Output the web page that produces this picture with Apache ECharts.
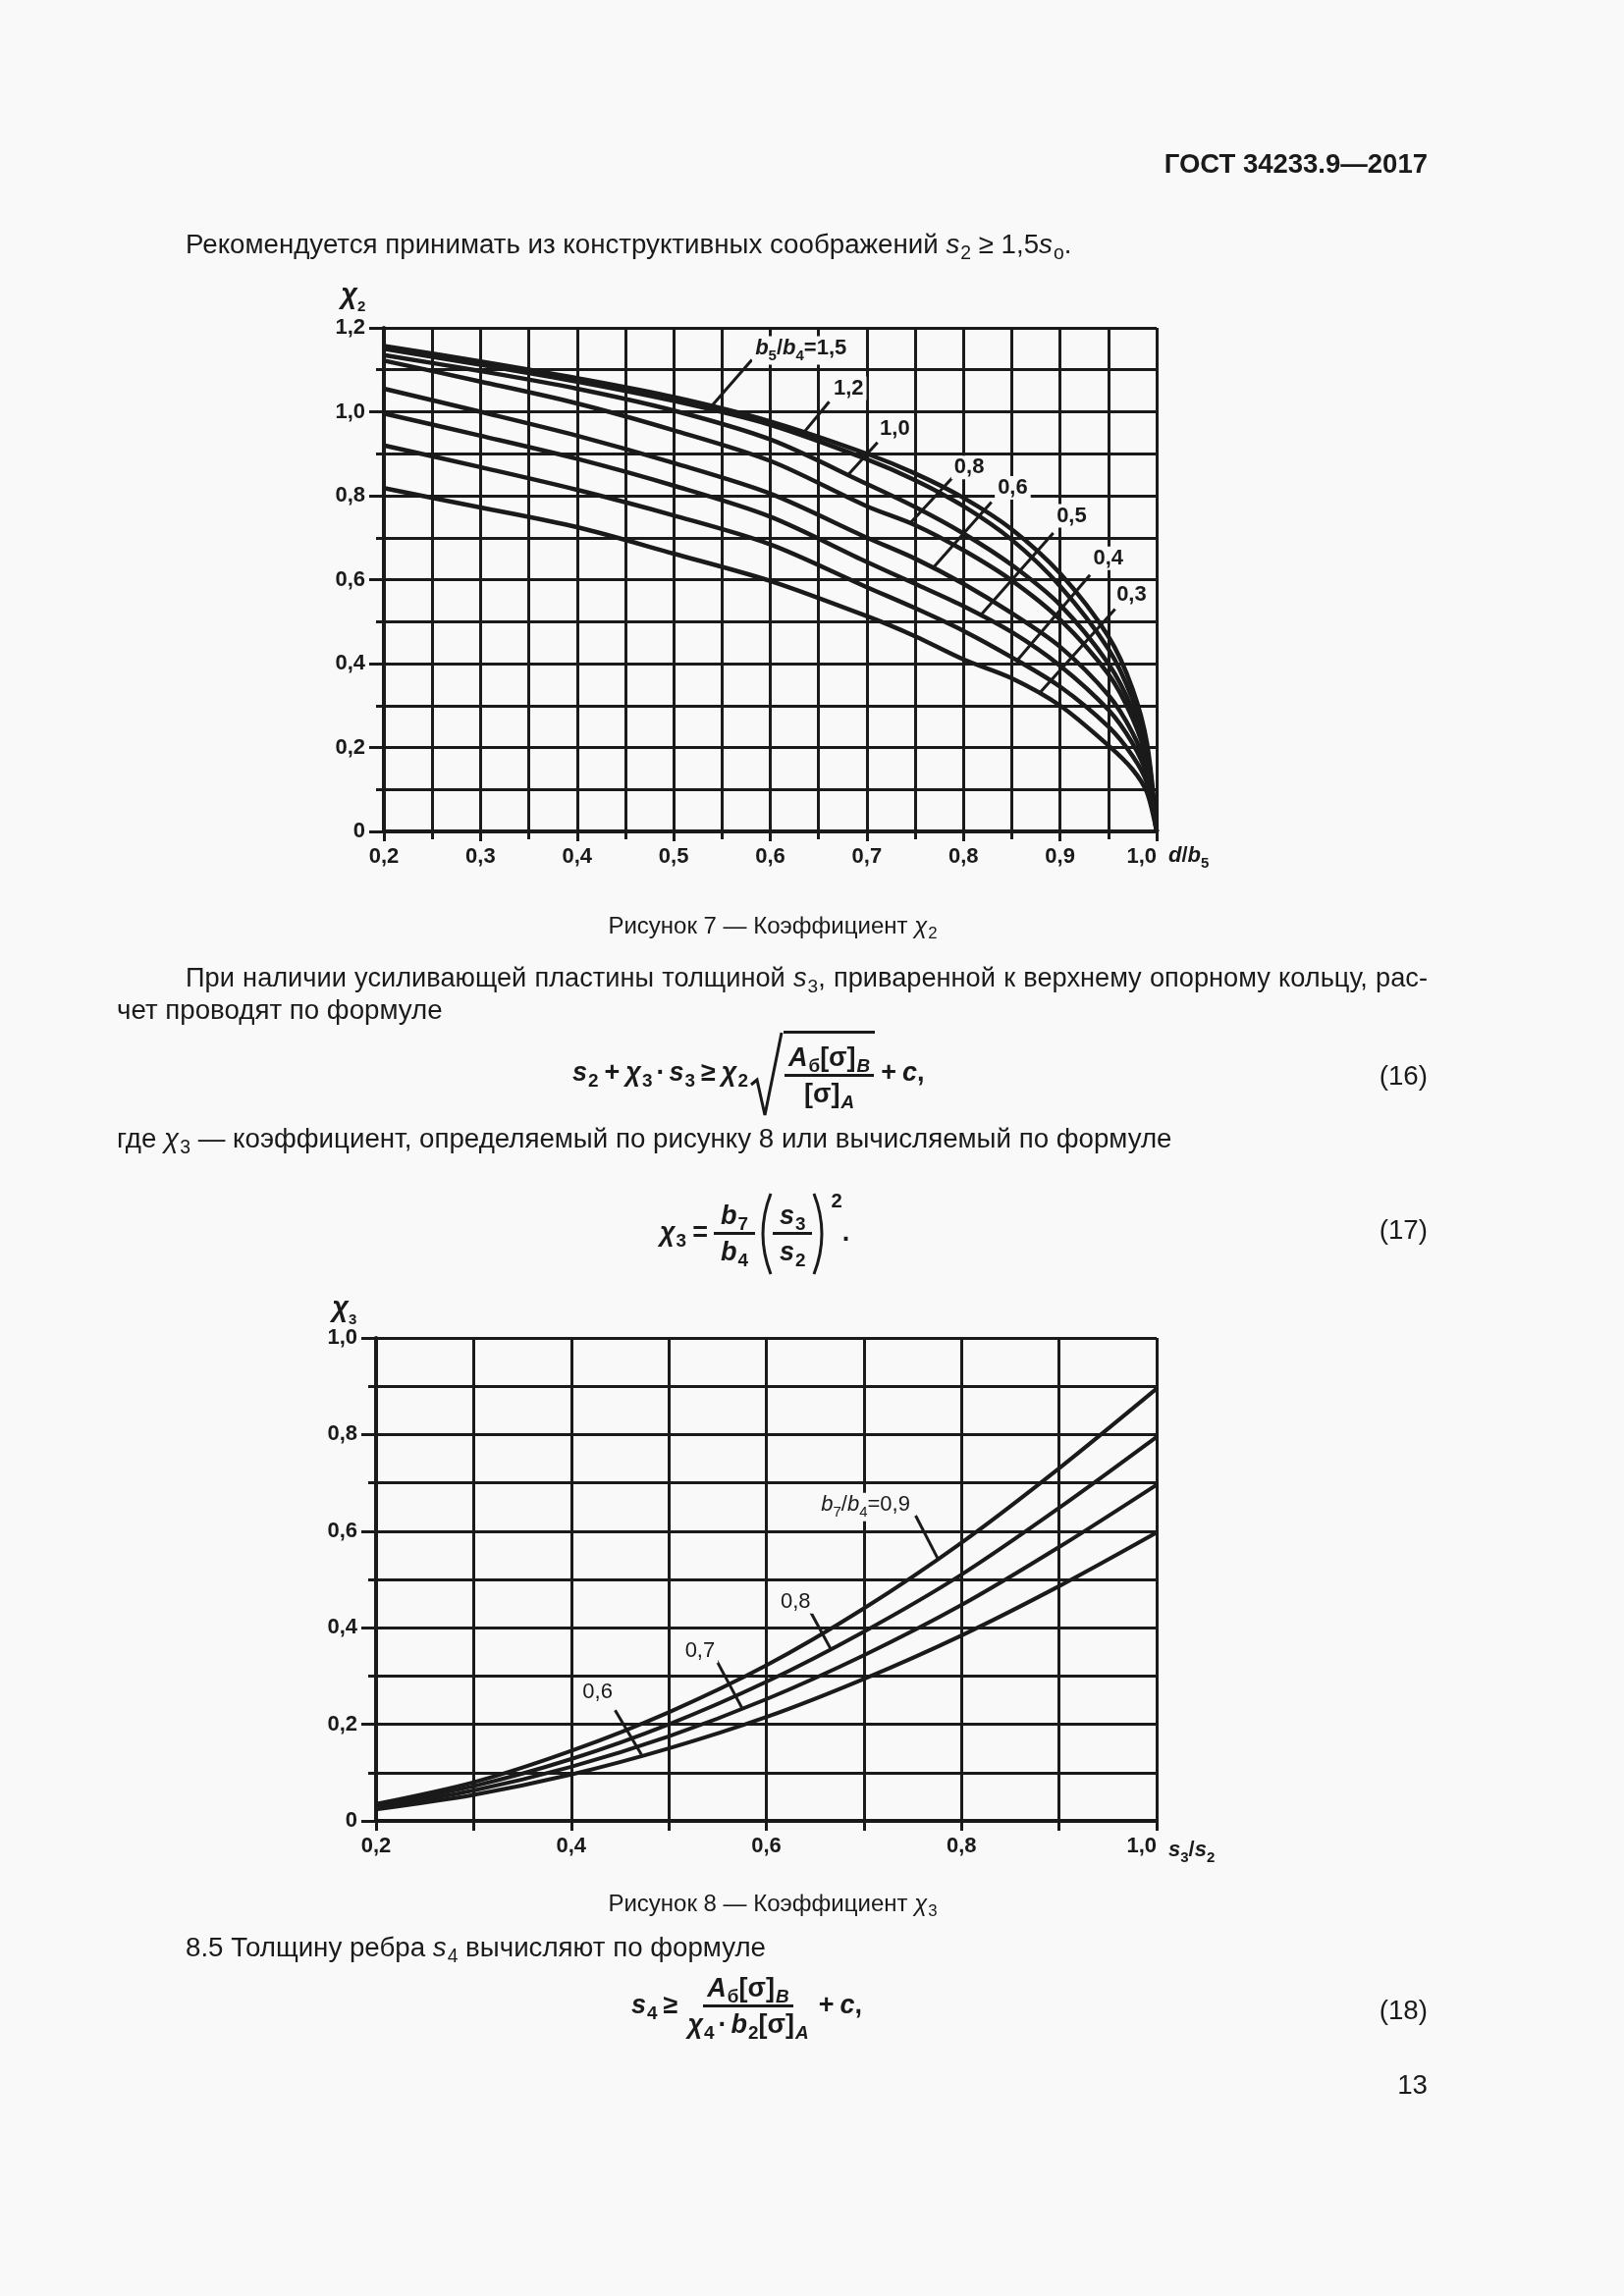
<!DOCTYPE html>
<html><head><meta charset="utf-8">
<script src="https://cdn.jsdelivr.net/npm/echarts@6/dist/echarts.min.js"></script>
<style>
html,body{margin:0;padding:0;background:#f9f9f9;}
#page{position:relative;width:1654px;height:2339px;overflow:hidden;font-family:"Liberation Sans",Arial,sans-serif;color:#1a1a1a;}
#chart{position:absolute;left:0;top:0;width:1654px;height:2339px;z-index:0;}
.t{position:absolute;white-space:nowrap;font-size:27.7px;line-height:30px;z-index:1;}
.b{font-weight:bold;}
.cap{font-size:24px;text-align:center;left:0;width:1574px;}
.sb{font-size:0.7em;position:relative;top:0.32em;margin-left:1px;}
.fm{position:absolute;white-space:nowrap;font-size:27px;font-weight:bold;line-height:1;z-index:1;}
.fm i{font-style:italic;}
.op{margin:0 6px;font-style:normal;}
.op2{margin:0 4px;}
.fr{display:inline-flex;flex-direction:column;align-items:center;vertical-align:middle;}
.fr .nu{border-bottom:3px solid #1a1a1a;padding:0 4px 3px;}
.fr .de{padding:4px 4px 0;}
.f17 .fr .nu,.f17 .fr .de{padding-left:7px;padding-right:7px;}
.sqrt{display:inline-flex;height:88px;vertical-align:middle;margin-left:2px;}
.sqin{border-top:3px solid #1a1a1a;display:flex;align-items:center;padding:0 1px;}
.par{vertical-align:middle;}
.sup{font-size:0.75em;position:relative;top:-34px;margin-left:1px;}
.just{white-space:normal;text-align:justify;text-align-last:justify;word-spacing:-5px;font-size:27.2px;}
</style>
</head>
<body>
<div id="page">
<div id="chart"></div>

<div class="t b" style="right:200px;top:152px;font-size:27.5px;">ГОСТ 34233.9—2017</div>
<div class="t" style="left:189px;top:234px;">Рекомендуется принимать из конструктивных соображений <i>s</i><span class="sb">2</span> ≥ 1,5<i>s</i><span class="sb">o</span>.</div>

<div class="t cap" style="top:928px;">Рисунок 7 — Коэффициент <i>χ</i><span class="sb">2</span></div>

<div class="t just" style="left:189px;top:981px;width:1265px;">При наличии усиливающей пластины толщиной <i>s</i><span class="sb">3</span>, приваренной к верхнему опорному кольцу, рас-</div>
<div class="t" style="left:119px;top:1014px;">чет проводят по формуле</div>

<div class="fm" style="left:583px;top:1050px;"><i>s</i><span class="sb">2</span><span class="op">+</span><i>χ</i><span class="sb">3</span><span class="op2">·</span><i>s</i><span class="sb">3</span><span class="op">≥</span><i>χ</i><span class="sb">2</span><span class="sqrt"><svg width="34" height="88" viewBox="0 0 34 88"><polyline points="1,55 7,50 15,86 32,2" fill="none" stroke="#1a1a1a" stroke-width="3"/></svg><span class="sqin"><span class="fr"><span class="nu"><i>A</i><span class="sb">б</span>[σ]<span class="sb"><i>B</i></span></span><span class="de">[σ]<span class="sb"><i>A</i></span></span></span></span></span><span class="op">+</span><i>c</i>,</div>
<div class="t" style="right:200px;top:1081px;">(16)</div>

<div class="t" style="left:119px;top:1145px;">где <i>χ</i><span class="sb">3</span> — коэффициент, определяемый по рисунку 8 или вычисляемый по формуле</div>

<div class="fm f17" style="left:672px;top:1214px;"><i>χ</i><span class="sb">3</span><span class="op">=</span><span class="fr"><span class="nu"><i>b</i><span class="sb">7</span></span><span class="de"><i>b</i><span class="sb">4</span></span></span><svg class="par" width="18" height="86" viewBox="0 0 18 86"><path d="M16,2 Q0,43 16,84" fill="none" stroke="#1a1a1a" stroke-width="3"/></svg><span class="fr"><span class="nu"><i>s</i><span class="sb">3</span></span><span class="de"><i>s</i><span class="sb">2</span></span></span><svg class="par" width="18" height="86" viewBox="0 0 18 86"><path d="M2,2 Q18,43 2,84" fill="none" stroke="#1a1a1a" stroke-width="3"/></svg><span class="sup">2</span>.</div>
<div class="t" style="right:200px;top:1238px;">(17)</div>

<div class="t cap" style="top:1924px;">Рисунок 8 — Коэффициент <i>χ</i><span class="sb">3</span></div>

<div class="t" style="left:189px;top:1969px;">8.5 Толщину ребра <i>s</i><span class="sb">4</span> вычисляют по формуле</div>

<div class="fm" style="left:643px;top:2012px;"><i>s</i><span class="sb">4</span><span class="op">≥</span><span class="fr"><span class="nu"><i>A</i><span class="sb">б</span>[σ]<span class="sb"><i>B</i></span></span><span class="de"><i>χ</i><span class="sb">4</span><span class="op2">·</span><i>b</i><span class="sb">2</span>[σ]<span class="sb"><i>A</i></span></span></span><span class="op">+</span><i>c</i>,</div>
<div class="t" style="right:200px;top:2033px;">(18)</div>

<div class="t" style="right:200px;top:2109px;">13</div>
</div>

<script>
// ---------- Figure 7: chi2 vs d/b5 ----------
const fig7X = [0.2, 0.3, 0.4, 0.5, 0.6, 0.7, 0.75, 0.8, 0.85, 0.9, 0.95, 0.975, 0.99, 1.0];
const fig7_r15 = [1.157, 1.12, 1.08, 1.035, 0.977, 0.90, 0.853, 0.795, 0.72, 0.615, 0.465, 0.34, 0.21, 0];
const fig7_r12 = [1.15, 1.112, 1.072, 1.026, 0.969, 0.887, 0.837, 0.775, 0.695, 0.585, 0.435, 0.315, 0.195, 0];
const fig7_r10 = [1.135, 1.097, 1.055, 1.003, 0.934, 0.828, 0.773, 0.71, 0.635, 0.54, 0.40, 0.29, 0.18, 0];
const fig7_r08 = [1.122, 1.072, 1.02, 0.956, 0.883, 0.775, 0.73, 0.67, 0.598, 0.505, 0.375, 0.27, 0.167, 0];
const fig7_r06 = [1.055, 1.0, 0.943, 0.878, 0.805, 0.70, 0.65, 0.59, 0.52, 0.44, 0.325, 0.235, 0.148, 0];
const fig7_r05 = [0.996, 0.943, 0.888, 0.824, 0.750, 0.642, 0.59, 0.537, 0.475, 0.395, 0.29, 0.21, 0.133, 0];
const fig7_r04 = [0.92, 0.868, 0.814, 0.753, 0.684, 0.582, 0.532, 0.478, 0.415, 0.345, 0.25, 0.18, 0.115, 0];
const fig7_r03 = [0.818, 0.772, 0.725, 0.662, 0.597, 0.513, 0.465, 0.41, 0.365, 0.30, 0.205, 0.148, 0.093, 0];
const fig7Ratios = ['1,5', '1,2', '1,0', '0,8', '0,6', '0,5', '0,4', '0,3'];
const fig7LeaderFrom = [[0.539, 1.013], [0.632, 0.943], [0.681, 0.851], [0.745, 0.735], [0.769, 0.629], [0.818, 0.516], [0.855, 0.406], [0.88, 0.333]];
const fig7LeaderTo = [[0.581, 1.124], [0.661, 1.024], [0.711, 0.927], [0.789, 0.844], [0.829, 0.785], [0.893, 0.711], [0.931, 0.611], [0.957, 0.53]];
const fig7LabelAt = [[0.632, 1.146], [0.681, 1.056], [0.729, 0.96], [0.806, 0.867], [0.851, 0.819], [0.912, 0.752], [0.950, 0.651], [0.974, 0.565]];

// ---------- Figure 8: chi3 vs s3/s2 ----------
const fig8X = [0.2, 0.3, 0.4, 0.5, 0.6, 0.7, 0.8, 0.9, 1.0];
const fig8_r09 = [0.035, 0.08, 0.145, 0.225, 0.322, 0.44, 0.576, 0.73, 0.895];
const fig8_r08 = [0.032, 0.072, 0.128, 0.2, 0.288, 0.392, 0.51, 0.648, 0.795];
const fig8_r07 = [0.028, 0.063, 0.112, 0.175, 0.252, 0.343, 0.447, 0.567, 0.696];
const fig8_r06 = [0.024, 0.054, 0.096, 0.15, 0.215, 0.294, 0.384, 0.486, 0.597];
const fig8Ratios = ['0,9', '0,8', '0,7', '0,6'];
const fig8LeaderFrom = [[0.776, 0.542], [0.666, 0.356], [0.575, 0.234], [0.472, 0.137]];
const fig8LeaderTo = [[0.753, 0.632], [0.645, 0.434], [0.549, 0.332], [0.445, 0.229]];
const fig8LabelAt = [[0.702, 0.65], [0.630, 0.454], [0.532, 0.351], [0.427, 0.266]];

const FONT = '"Liberation Sans", Arial, sans-serif';
const INK = '#1a1a1a';
const PAPER = '#f9f9f9';

function richSet(size, weight, chiSize) {
  const sub = Math.round(size * 0.68);
  return {
    i: {fontFamily: FONT, fontSize: size, fontWeight: weight, fontStyle: 'italic', color: INK, verticalAlign: 'top', lineHeight: size},
    n: {fontFamily: FONT, fontSize: size, fontWeight: weight, color: INK, verticalAlign: 'top', lineHeight: size},
    c: {fontFamily: FONT, fontSize: chiSize || size, fontWeight: weight, fontStyle: 'italic', color: INK, verticalAlign: 'top', lineHeight: chiSize || size},
    s: {fontFamily: FONT, fontSize: sub, fontWeight: weight, color: INK, verticalAlign: 'bottom', lineHeight: sub},
    sp: {fontSize: 2, lineHeight: (chiSize || size) + 5}
  };
}
const fmt1 = v => (Math.abs(v) < 1e-9 ? '0' : v.toFixed(1).replace('.', ','));

function makeAxes(gridIndex, xMin, xMax, xInt, xMinor, yMax, yInt, yMinor, xName, yName, xNamePad, yNameGap, yNamePadR) {
  const xAxis = {
    type: 'value', gridIndex, min: xMin, max: xMax, interval: xInt,
    axisLine: {show: true, onZero: false, lineStyle: {color: INK, width: 4}},
    axisTick: {show: true, length: 10, lineStyle: {color: INK, width: 3}},
    minorTick: {show: true, splitNumber: xMinor, length: 8, lineStyle: {color: INK, width: 3}},
    splitLine: {show: true, lineStyle: {color: INK, width: 3}},
    minorSplitLine: {show: true, lineStyle: {color: INK, width: 3}},
    axisLabel: {fontFamily: FONT, fontSize: 22, fontWeight: 'bold', color: INK, margin: 15, formatter: fmt1, alignMaxLabel: 'right', showMaxLabel: true, showMinLabel: true},
    name: xName, nameLocation: 'end', nameGap: 12,
    nameTextStyle: {color: INK, align: 'left', verticalAlign: 'middle', padding: [xNamePad, 0, 0, 0], rich: richSet(22, 'bold')}
  };
  const yAxis = {
    type: 'value', gridIndex, min: 0, max: yMax, interval: yInt,
    axisLine: {show: true, onZero: false, lineStyle: {color: INK, width: 4}},
    axisTick: {show: true, length: 15, lineStyle: {color: INK, width: 3}},
    minorTick: {show: true, splitNumber: yMinor, length: 8, lineStyle: {color: INK, width: 3}},
    splitLine: {show: true, lineStyle: {color: INK, width: 3}},
    minorSplitLine: {show: true, lineStyle: {color: INK, width: 3}},
    axisLabel: {fontFamily: FONT, fontSize: 22, fontWeight: 'bold', color: INK, margin: 19, formatter: fmt1},
    name: yName, nameLocation: 'end', nameGap: yNameGap,
    nameTextStyle: {color: INK, align: 'right', verticalAlign: 'bottom', padding: [0, yNamePadR, 0, 0], rich: richSet(22, 'bold', 29)}
  };
  return [xAxis, yAxis];
}

const ax7 = makeAxes(0, 0.2, 1.0, 0.1, 2, 1.2, 0.2, 2,
  '{i|d}{n|/}{i|b}{s|5}{sp| }', '{c|χ}{s|2}{sp| }', 54, 14, 18);
const ax8 = makeAxes(1, 0.2, 1.0, 0.2, 2, 1.0, 0.2, 2,
  '{i|s}{s|3}{n|/}{i|s}{s|2}{sp| }', '{c|χ}{s|3}{sp| }', 64, 11, 19);
ax8[0].minorTick.length = 10;

const series = [];
function addCurves(xs, curves, axisIdx, width) {
  curves.forEach(vals => {
    series.push({
      type: 'line', xAxisIndex: axisIdx, yAxisIndex: axisIdx,
      data: xs.map((x, j) => [x, vals[j]]),
      smooth: 0.3, symbol: 'none', silent: true,
      lineStyle: {color: INK, width: width}, z: 3
    });
  });
}
function addLeaders(from, to, axisIdx) {
  from.forEach((p, i) => {
    series.push({
      type: 'line', xAxisIndex: axisIdx, yAxisIndex: axisIdx,
      data: [p, to[i]], symbol: 'none', silent: true,
      lineStyle: {color: INK, width: 3}, z: 4
    });
  });
}
function addLabels(at, texts, axisIdx, weight) {
  series.push({
    type: 'scatter', xAxisIndex: axisIdx, yAxisIndex: axisIdx,
    symbolSize: 0, itemStyle: {color: INK, opacity: 1}, silent: true, z: 6,
    data: at.map((p, i) => ({value: p, label: {formatter: texts[i]}})),
    label: {show: true, position: [0, 0], align: 'center', verticalAlign: 'middle', color: INK, opacity: 1,
      textBorderWidth: 0, backgroundColor: PAPER, padding: [1, 3, 1, 3], rich: richSet(22, weight)}
  });
}

addCurves(fig7X, [fig7_r15, fig7_r12, fig7_r10, fig7_r08, fig7_r06, fig7_r05, fig7_r04, fig7_r03], 0, 4.5);
addLeaders(fig7LeaderFrom, fig7LeaderTo, 0);
addLabels(fig7LabelAt, fig7Ratios.map((r, i) => i === 0 ? '{i|b}{s|5}{n|/}{i|b}{s|4}{n|=' + r + '}{sp| }' : '{n|' + r + '}'), 0, 'bold');

addCurves(fig8X, [fig8_r09, fig8_r08, fig8_r07, fig8_r06], 1, 4);
addLeaders(fig8LeaderFrom, fig8LeaderTo, 1);
addLabels(fig8LabelAt, fig8Ratios.map((r, i) => i === 0 ? '{i|b}{s|7}{n|/}{i|b}{s|4}{n|=' + r + '}{sp| }' : '{n|' + r + '}'), 1, 'normal');

const chart = echarts.init(document.getElementById('chart'));
chart.setOption({
  animation: false,
  backgroundColor: 'transparent',
  grid: [
    {left: 391, top: 334, width: 787, height: 513},
    {left: 383, top: 1363, width: 795, height: 492}
  ],
  xAxis: [ax7[0], ax8[0]],
  yAxis: [ax7[1], ax8[1]],
  series: series
});
</script>
</body></html>
